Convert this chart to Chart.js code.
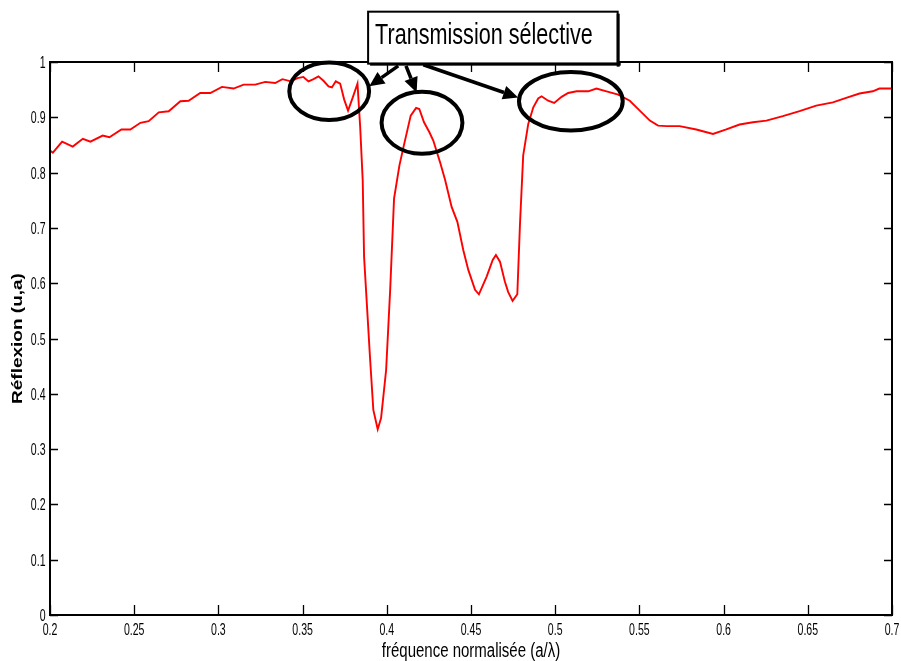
<!DOCTYPE html>
<html>
<head>
<meta charset="utf-8">
<script src="https://cdn.jsdelivr.net/npm/chart.js@4.4.1/dist/chart.umd.min.js"></script>
<style>
  html, body { margin: 0; padding: 0; background: #ffffff; }
  canvas { display: block; }
</style>
</head>
<body>
<canvas id="chart" width="901" height="661"></canvas>
<script>
// Normalised frequency (a/λ) samples
const freq = [
  0.2000, 0.2017, 0.2072, 0.2135, 0.2195, 0.2240, 0.2313, 0.2353, 0.2424, 0.2477,
  0.2537, 0.2586, 0.2646, 0.2705, 0.2774, 0.2823, 0.2892, 0.2952, 0.3021, 0.3090,
  0.3150, 0.3219, 0.3278, 0.3337, 0.3380, 0.3430, 0.3470, 0.3505, 0.3535, 0.3565,
  0.3594, 0.3624, 0.3654, 0.3674, 0.3697, 0.3723, 0.3747, 0.3770, 0.3798, 0.3826,
  0.3842, 0.3857, 0.3865, 0.3900, 0.3920, 0.3946, 0.3966, 0.3996, 0.4020, 0.4043,
  0.4075, 0.4099, 0.4142, 0.4174, 0.4193, 0.4221, 0.4253, 0.4276, 0.4316, 0.4346,
  0.4385, 0.4419, 0.4454, 0.4484, 0.4524, 0.4547, 0.4593, 0.4629, 0.4648, 0.4672,
  0.4701, 0.4721, 0.4747, 0.4775, 0.4791, 0.4810, 0.4840, 0.4870, 0.4899, 0.4919,
  0.4958, 0.4994, 0.5038, 0.5077, 0.5127, 0.5196, 0.5245, 0.5305, 0.5374, 0.5443,
  0.5502, 0.5562, 0.5611, 0.5661, 0.5739, 0.5838, 0.5937, 0.6016, 0.6095, 0.6174,
  0.6254, 0.6352, 0.6451, 0.6550, 0.6649, 0.6728, 0.6807, 0.6886, 0.6925, 0.7000
];

// Reflection coefficient at each frequency
const reflexion = [
  0.840, 0.836, 0.856, 0.847, 0.861, 0.856, 0.867, 0.864, 0.878, 0.878,
  0.890, 0.893, 0.909, 0.911, 0.929, 0.930, 0.944, 0.944, 0.955, 0.952,
  0.959, 0.959, 0.964, 0.962, 0.969, 0.965, 0.971, 0.973, 0.965, 0.969,
  0.974, 0.966, 0.956, 0.954, 0.965, 0.961, 0.932, 0.912, 0.936, 0.961,
  0.882, 0.786, 0.648, 0.467, 0.371, 0.336, 0.356, 0.443, 0.588, 0.753,
  0.813, 0.846, 0.903, 0.917, 0.915, 0.891, 0.873, 0.858, 0.819, 0.787,
  0.738, 0.711, 0.660, 0.624, 0.588, 0.580, 0.612, 0.642, 0.651, 0.639,
  0.603, 0.584, 0.568, 0.580, 0.708, 0.831, 0.888, 0.918, 0.934, 0.938,
  0.930, 0.926, 0.937, 0.944, 0.947, 0.947, 0.952, 0.947, 0.941, 0.930,
  0.912, 0.894, 0.885, 0.884, 0.884, 0.878, 0.870, 0.878, 0.887, 0.891,
  0.894, 0.902, 0.911, 0.921, 0.927, 0.935, 0.943, 0.947, 0.952, 0.952
];

// Axis ranges and tick steps
const xRange = [0.2, 0.7];
const yRange = [0, 1];
const xStep = 0.05;
const yStep = 0.1;

const xTitle = 'fréquence normalisée (a/λ)';
const yTitle = 'Réflexion (u,a)';
const calloutText = 'Transmission sélective';

// Circled regions (data units: centre and half-axes)
const circled = [
  { x: 0.3658, y: 0.947, rx: 0.0237, ry: 0.052 },
  { x: 0.4209, y: 0.890, rx: 0.0240, ry: 0.056 },
  { x: 0.5093, y: 0.929, rx: 0.0308, ry: 0.053 }
];

// Arrows from the callout box to the circled regions (data units)
const arrows = [
  { from: [0.4068, 0.993], to: [0.3896, 0.956] },
  { from: [0.4114, 0.993], to: [0.4177, 0.945] },
  { from: [0.4217, 0.995], to: [0.4780, 0.936] }
];

// Callout box corners (data units)
const calloutBox = { x0: 0.3889, x1: 0.5371, y0: 1.091, y1: 0.997 };

const SANS = '"Liberation Sans", Arial, Helvetica, sans-serif';
const SQUEEZE = 0.66;           // horizontal condensation of the label lettering
const fmt = v => String(Math.round(v * 100) / 100);

// Draws text condensed horizontally by `k` around the anchor point
function squeezedText(ctx, text, px, py, size, k, align, weight) {
  ctx.save();
  ctx.font = (weight ? weight + ' ' : '') + size + 'px ' + SANS;
  ctx.textBaseline = 'alphabetic';
  const w = ctx.measureText(text).width * k;
  let left = px;
  if (align === 'center') left = px - w / 2;
  else if (align === 'right') left = px - w;
  ctx.translate(left, py);
  ctx.scale(k, 1);
  ctx.textAlign = 'left';
  ctx.fillText(text, 0, 0);
  ctx.restore();
}

// MATLAB-like frame: box on all sides with inward ticks, labels, annotations
const framePlugin = {
  id: 'frame',
  afterDatasetsDraw(chart) {
    const { ctx, chartArea: a, scales: { x, y } } = chart;
    ctx.save();
    ctx.strokeStyle = '#000';
    ctx.lineWidth = 1.3;
    ctx.beginPath();
    x.ticks.forEach(t => {
      const px = Math.round(x.getPixelForValue(t.value)) + 0.5;
      ctx.moveTo(px, a.bottom); ctx.lineTo(px, a.bottom - 10);
      ctx.moveTo(px, a.top); ctx.lineTo(px, a.top + 10);
    });
    y.ticks.forEach(t => {
      const py = Math.round(y.getPixelForValue(t.value)) + 0.5;
      ctx.moveTo(a.left, py); ctx.lineTo(a.left + 8, py);
      ctx.moveTo(a.right, py); ctx.lineTo(a.right - 8, py);
    });
    ctx.stroke();
    ctx.lineWidth = 2;
    ctx.strokeRect(a.left, a.top, a.right - a.left, a.bottom - a.top);

    // tick labels
    ctx.fillStyle = '#000';
    x.ticks.forEach(t => {
      squeezedText(ctx, fmt(t.value), x.getPixelForValue(t.value), a.bottom + 20, 16, SQUEEZE, 'center');
    });
    y.ticks.forEach(t => {
      squeezedText(ctx, fmt(t.value), a.left - 4.5, y.getPixelForValue(t.value) + 6, 16, SQUEEZE, 'right');
    });

    // axis titles
    squeezedText(ctx, xTitle, (a.left + a.right) / 2, a.bottom + 42, 20, 0.75, 'center');
    ctx.save();
    ctx.translate(22, (a.top + a.bottom) / 2);
    ctx.rotate(-Math.PI / 2);
    ctx.scale(1, 0.78);
    ctx.font = 'bold 19px ' + SANS;
    ctx.textAlign = 'center';
    ctx.textBaseline = 'alphabetic';
    ctx.fillText(yTitle, 0, 0);
    ctx.restore();
    ctx.restore();
  },
  afterDraw(chart) {
    const { ctx, scales: { x, y } } = chart;
    ctx.save();
    ctx.strokeStyle = '#000';
    ctx.fillStyle = '#000';

    // ellipses around the transmission windows
    ctx.lineWidth = 4;
    circled.forEach(e => {
      const cx = x.getPixelForValue(e.x), cy = y.getPixelForValue(e.y);
      const rx = Math.abs(x.getPixelForValue(e.x + e.rx) - cx);
      const ry = Math.abs(y.getPixelForValue(e.y + e.ry) - cy);
      ctx.beginPath();
      ctx.ellipse(cx, cy, rx, ry, 0, 0, Math.PI * 2);
      ctx.stroke();
    });

    // arrows
    arrows.forEach(ar => {
      const x0 = x.getPixelForValue(ar.from[0]), y0 = y.getPixelForValue(ar.from[1]);
      const x1 = x.getPixelForValue(ar.to[0]), y1 = y.getPixelForValue(ar.to[1]);
      const ang = Math.atan2(y1 - y0, x1 - x0);
      const head = 15, half = 7;
      const bx = x1 - head * Math.cos(ang), by = y1 - head * Math.sin(ang);
      ctx.lineWidth = 3.5;
      ctx.beginPath();
      ctx.moveTo(x0, y0); ctx.lineTo(bx, by);
      ctx.stroke();
      ctx.beginPath();
      ctx.moveTo(x1, y1);
      ctx.lineTo(bx + half * Math.sin(ang), by - half * Math.cos(ang));
      ctx.lineTo(bx - half * Math.sin(ang), by + half * Math.cos(ang));
      ctx.closePath();
      ctx.fill();
    });

    // callout box
    const bx0 = x.getPixelForValue(calloutBox.x0), bx1 = x.getPixelForValue(calloutBox.x1);
    const by0 = y.getPixelForValue(calloutBox.y0), by1 = y.getPixelForValue(calloutBox.y1);
    ctx.fillStyle = '#fff';
    ctx.fillRect(bx0, by0, bx1 - bx0, by1 - by0);
    ctx.lineWidth = 2;
    ctx.strokeRect(bx0, by0, bx1 - bx0, by1 - by0);
    ctx.fillStyle = '#000';
    ctx.fillRect(bx1 - 1, by0 + 2, 3, by1 - by0 + 1);
    ctx.fillRect(bx0 + 2, by1 - 1, bx1 - bx0 + 1, 3);

    ctx.font = '29px ' + SANS;
    ctx.textBaseline = 'alphabetic';
    const w = ctx.measureText(calloutText).width;
    const target = (bx1 - bx0) * 0.872;
    ctx.translate(bx0 + 7, by0 + 32);
    ctx.scale(target / w, 1);
    ctx.fillText(calloutText, 0, 0);
    ctx.restore();
  }
};

new Chart(document.getElementById('chart'), {
  type: 'line',
  data: {
    datasets: [{
      data: freq.map((f, i) => ({ x: f, y: reflexion[i] })),
      borderColor: '#ff0000',
      borderWidth: 1.9,
      pointRadius: 0,
      tension: 0,
      fill: false
    }]
  },
  options: {
    responsive: false,
    animation: false,
    devicePixelRatio: 1,
    layout: { padding: { left: 0, right: 9, top: 62, bottom: 0 } },
    plugins: { legend: { display: false }, tooltip: { enabled: false } },
    scales: {
      x: {
        type: 'linear',
        min: xRange[0], max: xRange[1],
        afterFit: s => { s.height = 46; s.paddingLeft = 0; s.paddingRight = 0; },
        border: { display: false },
        grid: { display: false, drawTicks: false },
        ticks: { stepSize: xStep, autoSkip: false, maxRotation: 0, display: false },
        title: { display: false, text: xTitle }
      },
      y: {
        min: yRange[0], max: yRange[1],
        afterFit: s => { s.width = 50; s.paddingTop = 0; s.paddingBottom = 0; },
        border: { display: false },
        grid: { display: false, drawTicks: false },
        ticks: { stepSize: yStep, autoSkip: false, display: false },
        title: { display: false, text: yTitle }
      }
    }
  },
  plugins: [framePlugin]
});
</script>
</body>
</html>
